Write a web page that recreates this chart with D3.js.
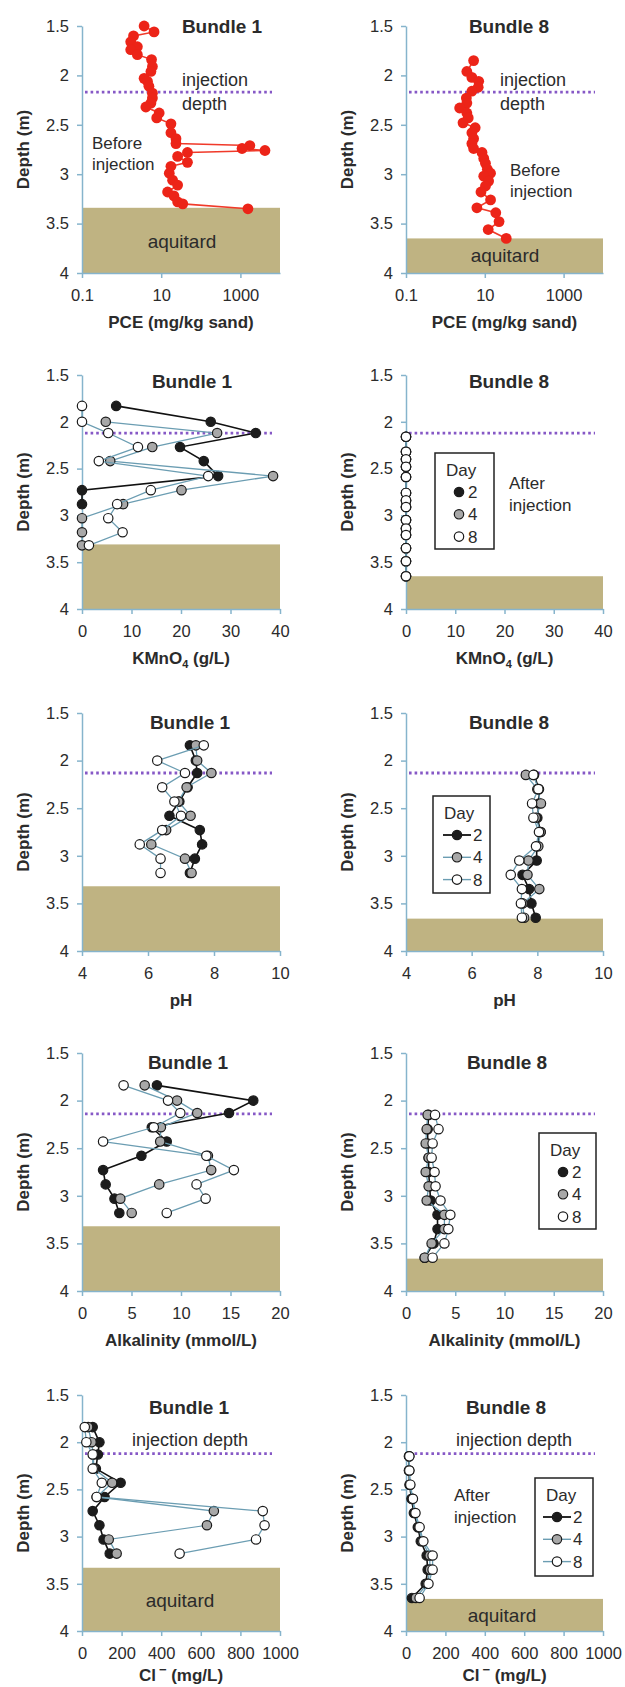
<!DOCTYPE html>
<html>
<head>
<meta charset="utf-8">
<script src="https://cdnjs.cloudflare.com/ajax/libs/d3/7.8.5/d3.min.js"></script>
<style>
  body { margin: 0; background: #fff; }
  svg { font-family: "Liberation Sans", Arial, sans-serif; }
</style>
</head>
<body>
<script>
// ---- data ----
const depthTicks = [1.5, 2, 2.5, 3, 3.5, 4];
const days = ["2", "4", "8"];

// PCE before injection (mg/kg sand)
const pceB1Depth = [1.50,1.56,1.60,1.66,1.71,1.74,1.79,1.84,1.91,1.96,2.03,2.06,2.11,2.18,2.23,2.28,2.32,2.38,2.43,2.49,2.58,2.64,2.69,2.71,2.74,2.76,2.78,2.82,2.88,2.92,2.99,3.06,3.11,3.18,3.22,3.28,3.30,3.35];
const pceB1 = [3.7,6.6,2.0,1.7,2.5,1.7,2.5,5.7,6.0,5.5,3.7,4.5,4.9,6.0,6.0,5.5,4.1,8.9,7.7,17.6,17.6,23.6,23.6,1730,1100,4170,46,26,46,17.6,16,19.4,26,14.5,21,26,35,1550];
const pceB8Depth = [1.85,1.96,2.02,2.06,2.12,2.16,2.23,2.28,2.33,2.38,2.43,2.48,2.53,2.58,2.64,2.69,2.74,2.78,2.84,2.89,2.95,2.99,3.02,3.07,3.12,3.18,3.26,3.34,3.39,3.48,3.56,3.65];
const pceB8 = [5.2,3.5,4.7,7.0,6.8,4.7,3.4,3.5,2.3,3.5,3.8,2.8,5.7,4.7,5.2,4.7,5.2,8.5,9.4,10.4,11.6,14,9.4,12.5,10.4,8.0,14,6.3,19,23,12.2,35];

// KMnO4 (g/L)
const kmB1Depth = [1.83,2.0,2.12,2.27,2.42,2.58,2.73,2.88,3.03,3.18,3.32];
const kmB1Day2 = [6.9,26,35.1,19.8,24.6,27.5,0,0,null,null,null];
const kmB1Day4 = [null,4.8,27.3,14.2,5.7,38.6,20.1,8.3,0,0,0];
const kmB1Day8 = [0,0,5.3,11.3,3.4,25.5,13.9,7.1,5.3,8.2,1.4];
const kmB8Depth = [2.16,2.32,2.4,2.48,2.59,2.76,2.84,2.91,3.05,3.14,3.21,3.35,3.49,3.65];
const kmB8Day2 = [0,0,0,0,0,0,0,0,0,0,0,0,0,0];
const kmB8Day4 = [0,0,0,0,0,0,0,0,0,0,0,0,0,0];
const kmB8Day8 = [0,0,0,0,0,0,0,0,0,0,0,0,0,0];

// sampling depths used for pH, alkalinity, chloride
const b1Depth = [1.84,2.0,2.13,2.28,2.43,2.58,2.73,2.88,3.03,3.18];
const b8Depth = [2.15,2.3,2.45,2.6,2.75,2.9,3.05,3.2,3.35,3.5,3.65];

// pH
const phB1Day2 = [7.27,7.45,7.49,7.2,6.95,6.65,7.57,7.64,7.42,7.27];
const phB1Day4 = [7.45,7.49,7.92,7.17,6.92,7.29,6.55,6.1,7.12,7.32];
const phB1Day8 = [7.69,6.28,7.12,6.43,6.8,7.0,6.43,5.75,6.38,6.38];
const phB8Day2 = [7.9,8.05,8.05,8.0,8.1,7.98,7.98,7.55,7.75,7.82,7.95];
const phB8Day4 = [7.65,8.0,8.11,7.95,8.1,8.03,7.73,7.7,8.06,7.55,7.6];
const phB8Day8 = [7.88,8.03,7.84,7.88,8.05,7.96,7.45,7.19,7.53,7.5,7.53];

// Alkalinity (mmol/L)
const alkB1Day2 = [7.57,17.3,14.85,7.05,8.56,6.0,2.13,2.39,3.28,3.77];
const alkB1Day4 = [6.33,9.6,11.64,7.97,7.9,12.72,13.05,7.8,3.87,5.02];
const alkB1Day8 = [4.2,8.69,9.93,7.25,2.13,12.56,15.34,11.57,12.49,8.56];
const alkB8Day2 = [2.3,2.2,2.2,2.3,2.3,2.4,2.5,3.2,3.2,2.8,1.9];
const alkB8Day4 = [2.2,2.1,2.0,2.3,2.0,2.3,2.1,3.9,3.9,2.6,1.9];
const alkB8Day8 = [2.95,3.3,2.7,2.6,2.9,3.0,3.5,4.5,4.3,3.9,2.7];

// Chloride (mg/L)
const clB1Day2 = [54,88,80,70,195,114,54,88,109,140];
const clB1Day4 = [31,48,57,60,152,74,666,631,135,175];
const clB1Day8 = [14,22,54,54,100,74,913,922,879,493];
const clB8Day2 = [15,15,18,28,40,60,75,105,110,100,30];
const clB8Day4 = [16,16,20,32,45,65,82,120,122,108,50];
const clB8Day8 = [17,17,22,35,48,69,88,135,135,114,69];

// per row: injection depth line and top of aquitard
const injectionDepth = [2.17, 2.12, 2.13, 2.14, 2.12];
const aquitardTopB1 = [3.34, 3.31, 3.32, 3.32, 3.33];
const aquitardTopB8 = [3.65, 3.65, 3.66, 3.66, 3.66];

// ---- layout ----
const width = 625, height = 1687;
const rowTop = [26, 375, 713, 1053, 1395];
const rowBot = [273, 609, 951, 1291, 1631];
const colX0 = [82, 406], colX1 = [280, 603];
const titleX = [[222, 509], [192, 509], [190, 509], [188, 507], [189, 506]];
const titleY = [33, 388, 729, 1069, 1414];
const xLabelOffset = [55, 55, 55, 55, 50];

const axisColor = "#86b4cc";
const textColor = "#2b2b2b";
const dayFill = { "2": "#1c1c1c", "4": "#a8a8a8", "8": "#ffffff" };
const dayLine = { "2": "#111111", "4": "#6b9db2", "8": "#6b9db2" };

const svg = d3.select("body").append("svg")
  .attr("width", width).attr("height", height);

function drawPanel(p) {
  const x0 = colX0[p.col], x1 = colX1[p.col];
  const top = rowTop[p.row], bot = rowBot[p.row];
  const g = svg.append("g");

  const y = d3.scaleLinear().domain([1.5, 4]).range([top, bot]);
  const x = p.log
    ? d3.scaleLog().domain([0.1, 10000]).range([x0, x1])
    : d3.scaleLinear().domain(p.xDomain).range([x0, x1]);

  // aquitard
  const aq = p.col === 0 ? aquitardTopB1[p.row] : aquitardTopB8[p.row];
  g.append("rect")
    .attr("x", x0).attr("y", y(aq))
    .attr("width", x1 - x0).attr("height", y(4) - y(aq))
    .attr("fill", "#bfb382");

  // axes
  const yAxis = g.append("g")
    .attr("transform", `translate(${x0},0)`)
    .call(d3.axisLeft(y).tickValues(depthTicks).tickSize(5).tickSizeOuter(0).tickPadding(8).tickFormat(d => String(d)));
  const xAxis = g.append("g")
    .attr("transform", `translate(0,${bot})`)
    .call(d3.axisBottom(x).tickValues(p.xTicks).tickSize(5).tickSizeOuter(0).tickPadding(11).tickFormat(d => String(d)));
  [yAxis, xAxis].forEach(a => {
    a.select(".domain").attr("stroke", axisColor).attr("stroke-width", 1.5);
    a.selectAll(".tick line").attr("stroke", axisColor).attr("stroke-width", 1.5);
    a.selectAll(".tick text").attr("fill", textColor).attr("font-size", 16.5);
  });

  // injection depth
  const inj = injectionDepth[p.row];
  g.append("line")
    .attr("x1", x0 + 3).attr("x2", x1 - 8)
    .attr("y1", y(inj)).attr("y2", y(inj))
    .attr("stroke", "#8658c6").attr("stroke-width", 2.8)
    .attr("stroke-dasharray", "2.6,3");

  // titles
  g.append("text")
    .attr("x", titleX[p.row][p.col]).attr("y", titleY[p.row])
    .attr("text-anchor", "middle").attr("font-weight", "bold")
    .attr("font-size", 19).attr("fill", textColor)
    .text(p.title);

  g.append("text")
    .attr("transform", `translate(${x0 - 53},${(top + bot) / 2}) rotate(-90)`)
    .attr("text-anchor", "middle").attr("font-weight", "bold")
    .attr("font-size", 17).attr("fill", textColor)
    .text("Depth (m)");

  const xt = g.append("text")
    .attr("x", (x0 + x1) / 2).attr("y", bot + xLabelOffset[p.row])
    .attr("text-anchor", "middle").attr("font-weight", "bold")
    .attr("font-size", 17).attr("fill", textColor);
  p.xLabel(xt);

  // data
  if (p.pce) {
    const pts = p.depth.map((d, i) => [p.pce[i], d]);
    g.append("path")
      .datum(pts)
      .attr("fill", "none").attr("stroke", "#f03a2a").attr("stroke-width", 1.6)
      .attr("d", d3.line().x(d => x(d[0])).y(d => y(d[1])));
    g.append("g").selectAll("circle")
      .data(pts).join("circle")
      .attr("cx", d => x(d[0])).attr("cy", d => y(d[1]))
      .attr("r", 5.4).attr("fill", "#ec2418");
  } else {
    p.series.forEach((vals, k) => {
      const day = days[k];
      const pts = p.depth.map((d, i) => [vals[i], d]).filter(d => d[0] != null);
      g.append("path")
        .datum(pts)
        .attr("fill", "none").attr("stroke", dayLine[day])
        .attr("stroke-width", day === "2" ? 1.6 : 1.3)
        .attr("d", d3.line().x(d => x(d[0])).y(d => y(d[1])));
      g.append("g").selectAll("circle")
        .data(pts).join("circle")
        .attr("cx", d => x(d[0])).attr("cy", d => y(d[1]))
        .attr("r", 4.7).attr("fill", dayFill[day])
        .attr("stroke", "#1a1a1a").attr("stroke-width", 1.2);
    });
  }

  (p.notes || []).forEach(n => {
    g.append("text")
      .attr("x", n.x).attr("y", n.y)
      .attr("text-anchor", n.anchor || "start")
      .attr("font-size", n.size || 17).attr("fill", textColor)
      .text(n.t);
  });

  if (p.legend) drawLegend(g, p.legend);
}

function drawLegend(g, L) {
  g.append("rect")
    .attr("x", L.x).attr("y", L.y).attr("width", L.w).attr("height", L.h)
    .attr("fill", "#fff").attr("stroke", "#222").attr("stroke-width", 1.5);
  g.append("text")
    .attr("x", L.x + 11).attr("y", L.y + 23)
    .attr("font-size", 17).attr("fill", textColor).text("Day");
  days.forEach((day, i) => {
    const cy = L.y + 39 + i * 22.3;
    if (L.lines) {
      g.append("line")
        .attr("x1", L.mx - 14).attr("x2", L.mx + 14)
        .attr("y1", cy).attr("y2", cy)
        .attr("stroke", dayLine[day]).attr("stroke-width", day === "2" ? 1.8 : 1.4);
    }
    g.append("circle")
      .attr("cx", L.mx).attr("cy", cy).attr("r", 4.7)
      .attr("fill", dayFill[day]).attr("stroke", "#1a1a1a").attr("stroke-width", 1.2);
    g.append("text")
      .attr("x", L.mx + (L.lines ? 16 : 9)).attr("y", cy + 6)
      .attr("font-size", 17).attr("fill", textColor).text(day);
  });
}

const pceLabel = t => t.text("PCE (mg/kg sand)");
const kmLabel = t => {
  t.append("tspan").text("KMnO");
  t.append("tspan").attr("font-size", 11).attr("dy", 4).text("4");
  t.append("tspan").attr("dy", -4).text(" (g/L)");
};
const phLabel = t => t.text("pH");
const alkLabel = t => t.text("Alkalinity (mmol/L)");
const clLabel = t => {
  t.append("tspan").text("Cl");
  t.append("tspan").attr("font-size", 13).attr("dy", -7).attr("dx", 3).text("\u2212");
  t.append("tspan").attr("dy", 7).text(" (mg/L)");
};

const panels = [
  { row: 0, col: 0, title: "Bundle 1", log: true, xTicks: [0.1, 10, 1000], xLabel: pceLabel,
    depth: pceB1Depth, pce: pceB1,
    notes: [
      { t: "injection", x: 182, y: 86, size: 18 },
      { t: "depth", x: 182, y: 110, size: 18 },
      { t: "Before", x: 92, y: 149 },
      { t: "injection", x: 92, y: 170 },
      { t: "aquitard", x: 182, y: 248, anchor: "middle", size: 19 }
    ] },
  { row: 0, col: 1, title: "Bundle 8", log: true, xTicks: [0.1, 10, 1000], xLabel: pceLabel,
    depth: pceB8Depth, pce: pceB8,
    notes: [
      { t: "injection", x: 500, y: 86, size: 18 },
      { t: "depth", x: 500, y: 110, size: 18 },
      { t: "Before", x: 510, y: 176 },
      { t: "injection", x: 510, y: 197 },
      { t: "aquitard", x: 505, y: 262, anchor: "middle", size: 19 }
    ] },
  { row: 1, col: 0, title: "Bundle 1", xDomain: [0, 40], xTicks: [0, 10, 20, 30, 40], xLabel: kmLabel,
    depth: kmB1Depth, series: [kmB1Day2, kmB1Day4, kmB1Day8] },
  { row: 1, col: 1, title: "Bundle 8", xDomain: [0, 40], xTicks: [0, 10, 20, 30, 40], xLabel: kmLabel,
    depth: kmB8Depth, series: [kmB8Day2, kmB8Day4, kmB8Day8],
    notes: [
      { t: "After", x: 509, y: 489 },
      { t: "injection", x: 509, y: 511 }
    ],
    legend: { x: 435, y: 453, w: 59, h: 96, mx: 459, lines: false } },
  { row: 2, col: 0, title: "Bundle 1", xDomain: [4, 10], xTicks: [4, 6, 8, 10], xLabel: phLabel,
    depth: b1Depth, series: [phB1Day2, phB1Day4, phB1Day8] },
  { row: 2, col: 1, title: "Bundle 8", xDomain: [4, 10], xTicks: [4, 6, 8, 10], xLabel: phLabel,
    depth: b8Depth, series: [phB8Day2, phB8Day4, phB8Day8],
    legend: { x: 433, y: 796, w: 57, h: 97, mx: 457, lines: true } },
  { row: 3, col: 0, title: "Bundle 1", xDomain: [0, 20], xTicks: [0, 5, 10, 15, 20], xLabel: alkLabel,
    depth: b1Depth, series: [alkB1Day2, alkB1Day4, alkB1Day8] },
  { row: 3, col: 1, title: "Bundle 8", xDomain: [0, 20], xTicks: [0, 5, 10, 15, 20], xLabel: alkLabel,
    depth: b8Depth, series: [alkB8Day2, alkB8Day4, alkB8Day8],
    legend: { x: 539, y: 1133, w: 57, h: 96, mx: 563, lines: false } },
  { row: 4, col: 0, title: "Bundle 1", xDomain: [0, 1000], xTicks: [0, 200, 400, 600, 800, 1000], xLabel: clLabel,
    depth: b1Depth, series: [clB1Day2, clB1Day4, clB1Day8],
    notes: [
      { t: "injection depth", x: 190, y: 1446, anchor: "middle", size: 18 },
      { t: "aquitard", x: 180, y: 1607, anchor: "middle", size: 19 }
    ] },
  { row: 4, col: 1, title: "Bundle 8", xDomain: [0, 1000], xTicks: [0, 200, 400, 600, 800, 1000], xLabel: clLabel,
    depth: b8Depth, series: [clB8Day2, clB8Day4, clB8Day8],
    notes: [
      { t: "injection depth", x: 514, y: 1446, anchor: "middle", size: 18 },
      { t: "After", x: 454, y: 1501 },
      { t: "injection", x: 454, y: 1523 },
      { t: "aquitard", x: 502, y: 1622, anchor: "middle", size: 19 }
    ],
    legend: { x: 535, y: 1478, w: 58, h: 98, mx: 557, lines: true } }
];

panels.forEach(drawPanel);
</script>
</body>
</html>
